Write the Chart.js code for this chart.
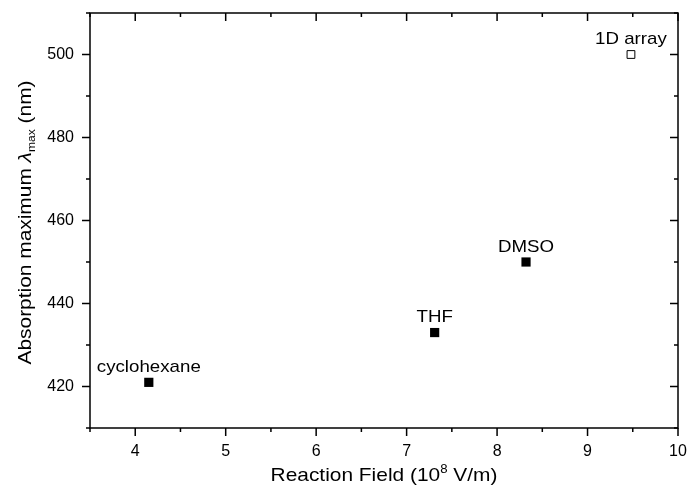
<!DOCTYPE html>
<html>
<head>
<meta charset="utf-8">
<script src="https://cdn.jsdelivr.net/npm/chart.js@4/dist/chart.umd.min.js"></script>
<style>
  html, body { margin: 0; padding: 0; background: #fff; }
  #wrap { width: 687px; height: 487px; }
</style>
</head>
<body>
<div id="wrap"><canvas id="fieldChart"></canvas></div>
<script>
// data
const solvents = ['cyclohexane', 'THF', 'DMSO'];
const solventField = [4.15, 7.31, 8.32];
const solventLambda = [421, 433, 450];

const arrayLabel = ['1D array'];
const arrayField = [9.48];
const arrayLambda = [500];

const xTicks = [4, 5, 6, 7, 8, 9, 10];
const yTicks = [420, 440, 460, 480, 500];

const FONT = '"Liberation Sans", Arial, sans-serif';
const STRETCH = 1.1; // the original text is a bit wider than Arial

// frame, ticks on all four sides, axis titles and point labels
const decorations = {
  id: 'decorations',
  afterDatasetsDraw(chart) {
    const { ctx, chartArea: a, scales } = chart;
    const xs = scales.x, ys = scales.y;
    ctx.save();
    ctx.strokeStyle = '#000';
    ctx.lineWidth = 1.5;
    ctx.strokeRect(a.left, a.top, a.right - a.left, a.bottom - a.top);

    ctx.beginPath();
    for (let v = 3.5; v <= 10.001; v += 0.5) {
      const px = xs.getPixelForValue(v);
      const len = Number.isInteger(v) ? 8 : 4;
      ctx.moveTo(px, a.bottom); ctx.lineTo(px, a.bottom + len);
      ctx.moveTo(px, a.top); ctx.lineTo(px, a.top + len);
    }
    for (let v = 410; v <= 510; v += 10) {
      const py = ys.getPixelForValue(v);
      const len = v % 20 === 0 ? 8 : 4;
      ctx.moveTo(a.left, py); ctx.lineTo(a.left - len, py);
      ctx.moveTo(a.right, py); ctx.lineTo(a.right - len, py);
    }
    ctx.stroke();

    // point labels
    ctx.fillStyle = '#000';
    chart.data.datasets.forEach((ds, di) => {
      const meta = chart.getDatasetMeta(di);
      meta.data.forEach((pt, i) => {
        drawParts(ctx, [[ds.names[i], 17, 0]], pt.x, pt.y - 10.5);
      });
    });

    // x title with superscript
    const xParts = [['Reaction Field (10', 19, 0], ['8', 12, -8], [' V/m)', 19, 0]];
    drawParts(ctx, xParts, (a.left + a.right) / 2, 481);

    // y title with lambda and subscript
    ctx.save();
    ctx.translate(31, (a.top + a.bottom) / 2 + 2);
    ctx.rotate(-Math.PI / 2);
    const yParts = [['Absorption maximum ', 19, 0], ['\u03bb', 19, 0, 'italic '], ['max', 11, 4], [' (nm)', 19, 0]];
    drawParts(ctx, yParts, 0, 0);
    ctx.restore();
    ctx.restore();
  }
};

// draws text pieces centred on cx, slightly stretched sideways
function drawParts(ctx, parts, cx, baseY) {
  let total = 0;
  parts.forEach(p => {
    ctx.font = (p[3] || '') + p[1] + 'px ' + FONT;
    total += ctx.measureText(p[0]).width;
  });
  ctx.save();
  ctx.translate(cx, baseY);
  ctx.scale(STRETCH, 1);
  let x = -total / 2;
  ctx.textAlign = 'left';
  ctx.textBaseline = 'alphabetic';
  parts.forEach(p => {
    ctx.font = (p[3] || '') + p[1] + 'px ' + FONT;
    ctx.fillText(p[0], x, p[2]);
    x += ctx.measureText(p[0]).width;
  });
  ctx.restore();
}

const ctx = document.getElementById('fieldChart');

new Chart(ctx, {
  type: 'scatter',
  data: {
    datasets: [{
      names: solvents,
      data: solventField.map((v, i) => ({ x: v, y: solventLambda[i] })),
      pointStyle: 'rect',
      pointRadius: 6.5,
      backgroundColor: '#000',
      borderColor: '#000',
      borderWidth: 0
    }, {
      names: arrayLabel,
      data: arrayField.map((v, i) => ({ x: v, y: arrayLambda[i] })),
      pointStyle: 'rect',
      pointRadius: 5.5,
      backgroundColor: '#fff',
      borderColor: '#000',
      borderWidth: 1
    }]
  },
  options: {
    responsive: true,
    maintainAspectRatio: false,
    animation: false,
    layout: { padding: { top: 13, right: 9, left: 0, bottom: 0 } },
    plugins: {
      legend: { display: false },
      tooltip: { enabled: false }
    },
    scales: {
      x: {
        type: 'linear',
        min: 3.5,
        max: 10,
        grid: { display: false, drawTicks: false },
        border: { display: false },
        afterBuildTicks: scale => { scale.ticks = xTicks.map(v => ({ value: v })); },
        afterFit: scale => {
          scale.height = 59;
          scale.paddingLeft = 0;
          scale.paddingRight = 0;
        },
        ticks: {
          padding: 14,
          color: '#000',
          font: { family: FONT, size: 16 }
        }
      },
      y: {
        min: 410,
        max: 510,
        grid: { display: false, drawTicks: false },
        border: { display: false },
        afterBuildTicks: scale => { scale.ticks = yTicks.map(v => ({ value: v })); },
        afterFit: scale => {
          scale.width = 90;
          scale.paddingTop = 0;
          scale.paddingBottom = 0;
        },
        ticks: {
          padding: 16,
          color: '#000',
          font: { family: FONT, size: 16 }
        }
      }
    }
  },
  plugins: [decorations]
});
</script>
</body>
</html>
